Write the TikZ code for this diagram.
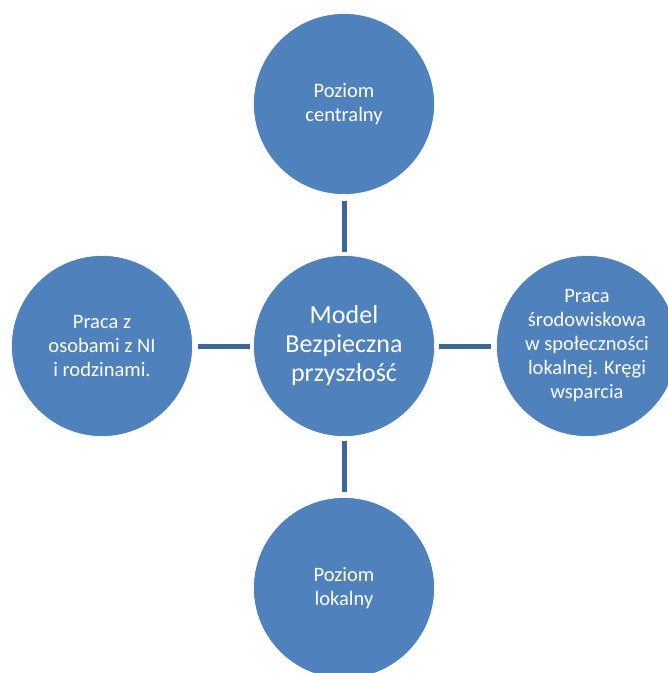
\documentclass[tikz,border=0pt]{standalone}
\usepackage{fontspec}
\setmainfont{Carlito}
\definecolor{circfill}{HTML}{4F81BD}
\definecolor{linkcol}{HTML}{3C679A}
\begin{document}
\begin{tikzpicture}[x=1pt,y=-1pt,
  bubble/.style={circle,fill=circfill,draw=white,line width=0.6pt,minimum size=181pt,inner sep=0pt,text=white,align=center,font=\fontsize{20.5}{24}\selectfont},
  hub/.style={bubble,font=\fontsize{26}{29}\selectfont},
  link/.style={draw=linkcol,line width=5pt}]
\useasboundingbox (0,0) rectangle (668,673);
\node[hub] (c) at (344,346) {Model\\Bezpieczna\\przyszłość};
\node[bubble] (t) at (344,104) {Poziom\\centralny};
\node[bubble] (l) at (102,346) {Praca z\\osobami z NI\\i rodzinami.};
\node[bubble] (r) at (587,346) {Praca\\środowiskowa\\w społeczności\\lokalnej. Kręgi\\wsparcia};
\node[bubble] (b) at (344,588) {Poziom\\lokalny};
\draw[link] ([yshift=-6pt]t.south) -- ([yshift=3pt]c.north);
\draw[link] ([yshift=-4pt]c.south) -- ([yshift=5pt]b.north);
\draw[link] ([xshift=-3pt]c.west) -- ([xshift=5pt]l.east);
\draw[link] ([xshift=4pt]c.east) -- ([xshift=-5pt]r.west);
\end{tikzpicture}
\end{document}
